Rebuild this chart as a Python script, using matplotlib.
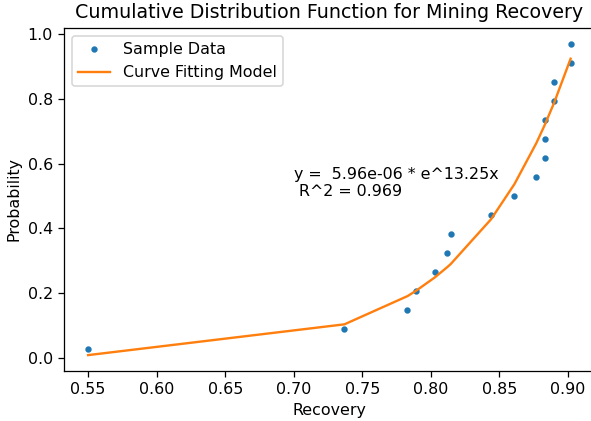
import numpy as np
import matplotlib
matplotlib.use("Agg")
import matplotlib.pyplot as plt

# sample data
recovery = [0.550, 0.737, 0.783, 0.789, 0.803, 0.812, 0.8145, 0.844, 0.861,
            0.877, 0.883, 0.883, 0.883, 0.890, 0.890, 0.902, 0.902]
probability = [0.029, 0.088, 0.147, 0.206, 0.265, 0.324, 0.382, 0.441, 0.500,
               0.559, 0.618, 0.676, 0.735, 0.794, 0.853, 0.912, 0.971]

# fitted model parameters (shown on chart)
a = 5.96e-06
b = 13.25
r2 = 0.969

x = np.array(recovery)
y_fit = a * np.exp(b * x)

dpi = 114
fig = plt.figure(figsize=(591 / dpi, 421 / dpi), dpi=dpi)
# right edge of the axes sits just past the figure edge, as in the original crop
ax = fig.add_axes([0.1083, 0.1195, 0.898, 0.814])
ax.plot(recovery, probability, '.', label='Sample Data')
ax.plot(x, y_fit, color='tab:orange', label='Curve Fitting Model')
ax.text(0.7, 0.5, "y =  %.2e * e^%.2fx\n R^2 = %.3f" % (a, b, r2))
ax.set_title("Cumulative Distribution Function for Mining Recovery")
ax.set_xlabel("Recovery")
ax.set_ylabel("Probability")
ax.legend(loc='upper left')
fig.savefig("out.png", dpi=dpi)
